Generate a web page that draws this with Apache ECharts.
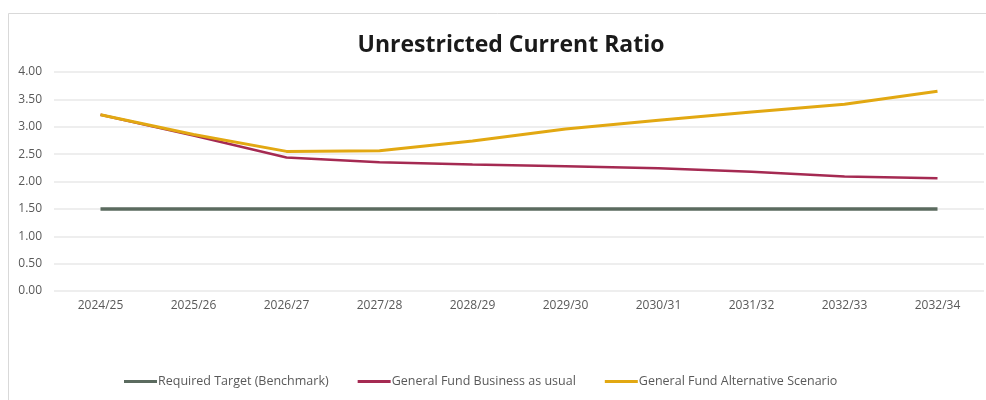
<!DOCTYPE html>
<html>
<head>
<meta charset="utf-8">
<script src="https://cdn.jsdelivr.net/npm/echarts@6/dist/echarts.min.js"></script>
<style>
  html, body { margin: 0; padding: 0; background: #ffffff; }
  #chart { width: 986px; height: 400px; }
</style>
</head>
<body>
<div id="chart"></div>
<script>
// Financial years shown on the category axis
const years = ['2024/25', '2025/26', '2026/27', '2027/28', '2028/29',
               '2029/30', '2030/31', '2031/32', '2032/33', '2032/34'];

// Ratio series
const requiredTarget = [1.50, 1.50, 1.50, 1.50, 1.50, 1.50, 1.50, 1.50, 1.50, 1.50];
const businessAsUsual = [3.22, 2.84, 2.44, 2.35, 2.31, 2.28, 2.24, 2.18, 2.09, 2.06];
const alternativeScenario = [3.22, 2.86, 2.55, 2.56, 2.74, 2.96, 3.12, 3.27, 3.41, 3.65];

const seriesNames = ['Required Target (Benchmark)', 'General Fund Business as usual', 'General Fund Alternative Scenario'];

const chart = echarts.init(document.getElementById('chart'), null, { renderer: 'canvas' });

const font = '"Open Sans", "Liberation Sans", sans-serif';
const labelColor = '#595959';

chart.setOption({
  animation: false,
  backgroundColor: '#ffffff',
  title: {
    text: 'Unrestricted Current Ratio',
    left: 506,
    textAlign: 'center',
    top: 29,
    textStyle: { fontFamily: font, fontWeight: 'bold', fontSize: 23, color: '#1a1a1a' }
  },
  graphic: [{
    type: 'rect',
    shape: { x: 8.5, y: 13.5, width: 990, height: 400 },
    style: { fill: 'none', stroke: '#d9d9d9', lineWidth: 1 },
    silent: true,
    z: -1
  }],
  legend: {
    left: 119,
    top: 370,
    itemWidth: 33,
    itemHeight: 3,
    itemGap: 29,
    icon: 'rect',
    textStyle: { fontFamily: font, fontSize: 12.5, color: labelColor, padding: [0, 0, 0, -4] },
    data: seriesNames
  },
  grid: { left: 54, right: 2, top: 72, bottom: 109 },
  xAxis: {
    type: 'category',
    data: years,
    boundaryGap: true,
    axisLine: { show: false },
    axisTick: { show: false },
    axisLabel: { fontFamily: font, fontSize: 12, color: labelColor, margin: 9 }
  },
  yAxis: {
    type: 'value',
    min: 0,
    max: 4,
    interval: 0.5,
    axisLine: { show: false },
    axisTick: { show: false },
    axisLabel: {
      fontFamily: font, fontSize: 12, color: labelColor, margin: 12,
      formatter: v => v.toFixed(2)
    },
    splitLine: { lineStyle: { color: '#e8e8e8', width: 1.5 } }
  },
  series: [
    {
      name: seriesNames[0], type: 'line', data: requiredTarget,
      showSymbol: false, symbol: 'none',
      lineStyle: { color: '#5b6b5f', width: 3.5 },
      itemStyle: { color: '#5b6b5f' }
    },
    {
      name: seriesNames[1], type: 'line', data: businessAsUsual,
      showSymbol: false, symbol: 'none',
      lineStyle: { color: '#a52a52', width: 2.5 },
      itemStyle: { color: '#a52a52' }
    },
    {
      name: seriesNames[2], type: 'line', data: alternativeScenario,
      showSymbol: false, symbol: 'none',
      lineStyle: { color: '#e2a812', width: 3 },
      itemStyle: { color: '#e2a812' }
    }
  ]
});
</script>
</body>
</html>
